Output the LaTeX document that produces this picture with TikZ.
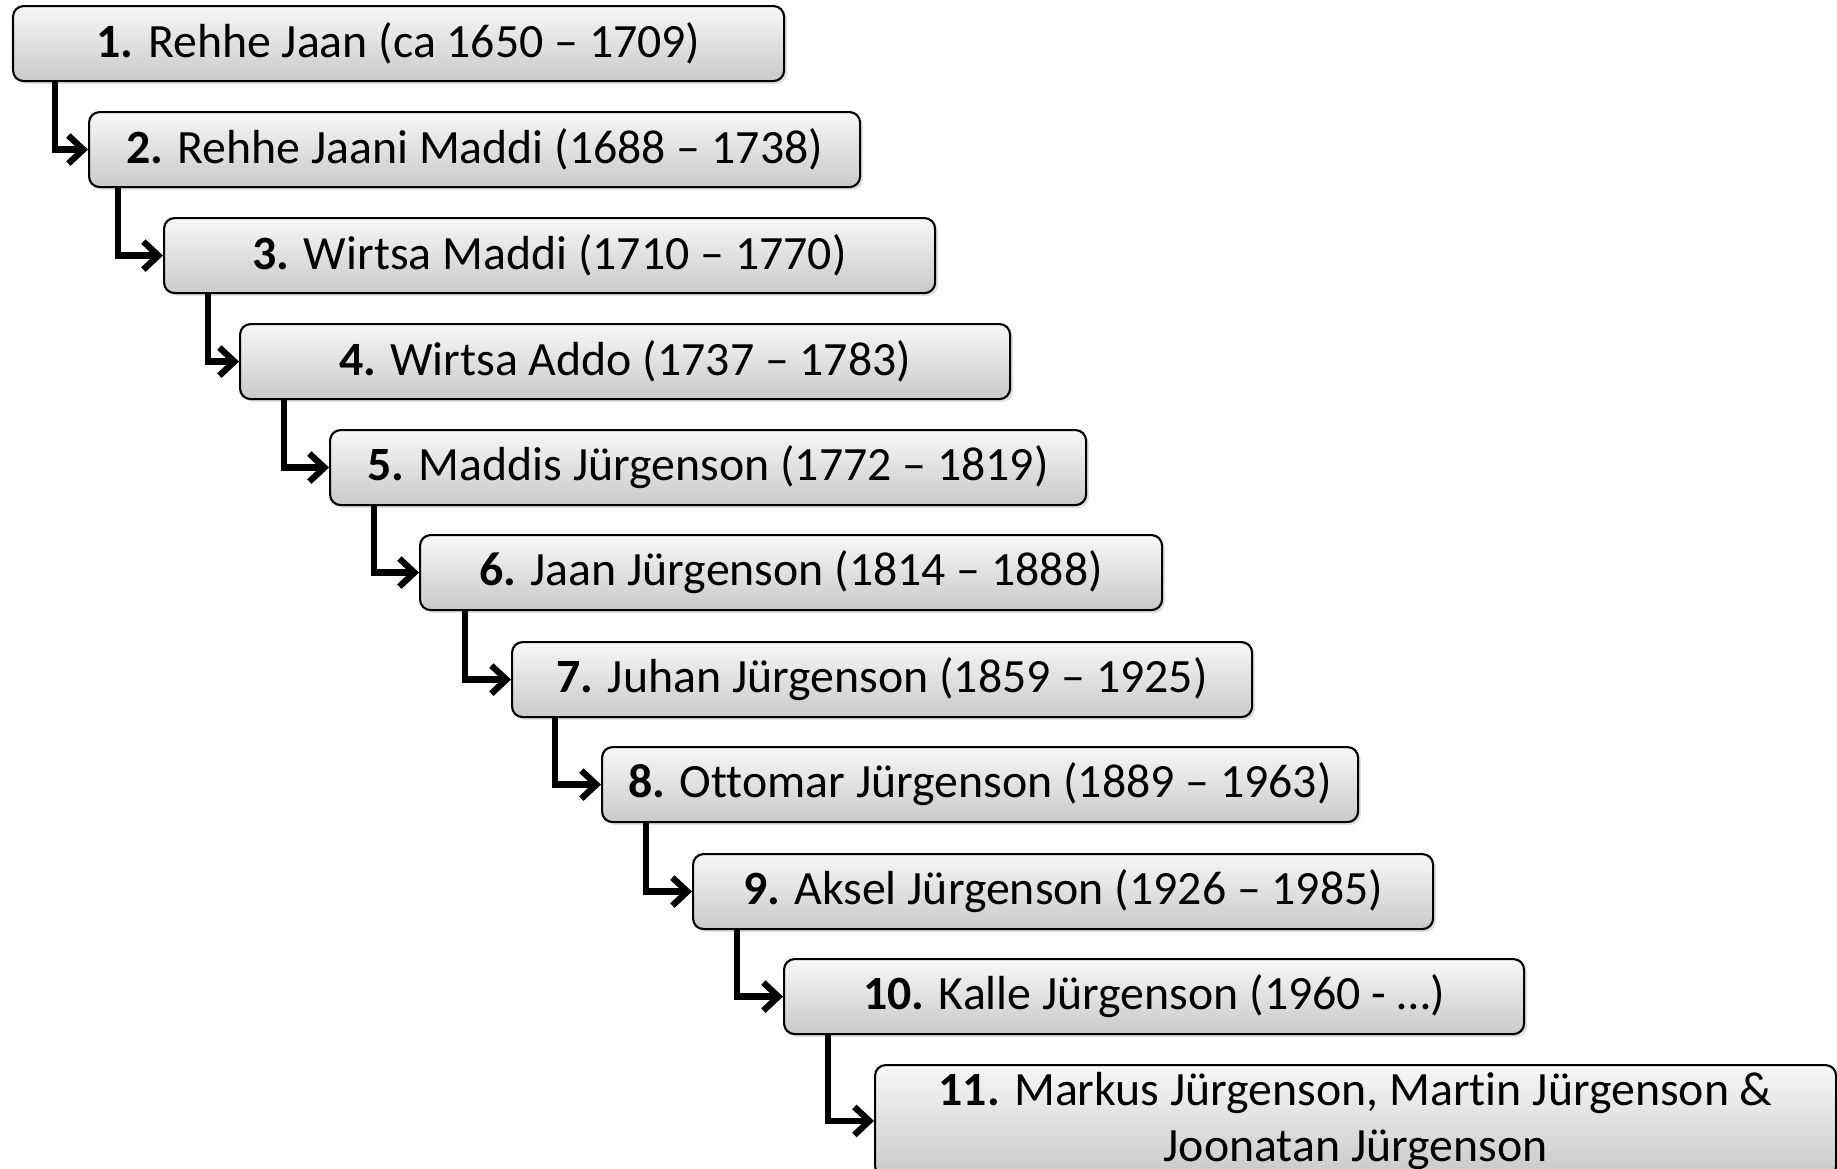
\documentclass[tikz,border=0pt]{standalone}
\usepackage{fontspec}
\setmainfont{Carlito}[Ligatures=NoCommon]
\usetikzlibrary{arrows.meta,shadows}

\begin{document}
\begin{tikzpicture}

% Set the overall frame of the chart
\useasboundingbox (0,0) rectangle (18.37,-11.68);

% Define styles for the generation boxes and the links
\tikzstyle{person} = [rectangle, rounded corners=3pt, draw=black, line width=0.6pt,
    top color=gray!6, bottom color=gray!42, anchor=north west,
    drop shadow={opacity=0.25, shadow xshift=0.8pt, shadow yshift=-0.8pt},
    minimum height=0.75cm, font=\fontsize{13.6}{16}\selectfont, align=center, inner sep=2pt]
\tikzstyle{link} = [line width=1.8pt, -{Straight Barb[length=1.5mm, width=2.8mm]}]

\node[person, minimum width=7.71cm] (p1) at (0.12,-0.05) {\textbf{1.} Rehhe Jaan (ca 1650 -- 1709)};
\node[person, minimum width=7.71cm] (p2) at (0.88,-1.11) {\textbf{2.} Rehhe Jaani Maddi (1688 -- 1738)};
\node[person, minimum width=7.71cm] (p3) at (1.63,-2.17) {\textbf{3.} Wirtsa Maddi (1710 -- 1770)};
\node[person, minimum width=7.70cm] (p4) at (2.39,-3.23) {\textbf{4.} Wirtsa Addo (1737 -- 1783)};
\node[person, minimum width=7.56cm] (p5) at (3.29,-4.29) {\textbf{5.} Maddis Jürgenson (1772 -- 1819)};
\node[person, minimum width=7.42cm] (p6) at (4.19,-5.34) {\textbf{6.} Jaan Jürgenson (1814 -- 1888)};
\node[person, minimum width=7.40cm] (p7) at (5.11,-6.41) {\textbf{7.} Juhan Jürgenson (1859 -- 1925)};
\node[person, minimum width=7.56cm] (p8) at (6.01,-7.46) {\textbf{8.} Ottomar Jürgenson (1889 -- 1963)};
\node[person, minimum width=7.40cm] (p9) at (6.92,-8.53) {\textbf{9.} Aksel Jürgenson (1926 -- 1985)};
\node[person, minimum width=7.40cm] (p10) at (7.83,-9.58) {\textbf{10.} Kalle Jürgenson (1960 - …)};
\node[person, minimum width=9.61cm, minimum height=1.02cm] (p11) at (8.74,-10.64)
    {\textbf{11.} Markus Jürgenson, Martin Jürgenson \&\\ Joonatan Jürgenson};

% Links from each generation to the next
\draw[link] ([xshift=0.43cm]p1.south west) |- (p2.west);
\draw[link] ([xshift=0.30cm]p2.south west) |- (p3.west);
\draw[link] ([xshift=0.45cm]p3.south west) |- (p4.west);
\draw[link] ([xshift=0.45cm]p4.south west) |- (p5.west);
\draw[link] ([xshift=0.45cm]p5.south west) |- (p6.west);
\draw[link] ([xshift=0.46cm]p6.south west) |- (p7.west);
\draw[link] ([xshift=0.44cm]p7.south west) |- (p8.west);
\draw[link] ([xshift=0.45cm]p8.south west) |- (p9.west);
\draw[link] ([xshift=0.45cm]p9.south west) |- (p10.west);
\draw[link] ([xshift=0.45cm]p10.south west) |- (p11.west);

\end{tikzpicture}
\end{document}
